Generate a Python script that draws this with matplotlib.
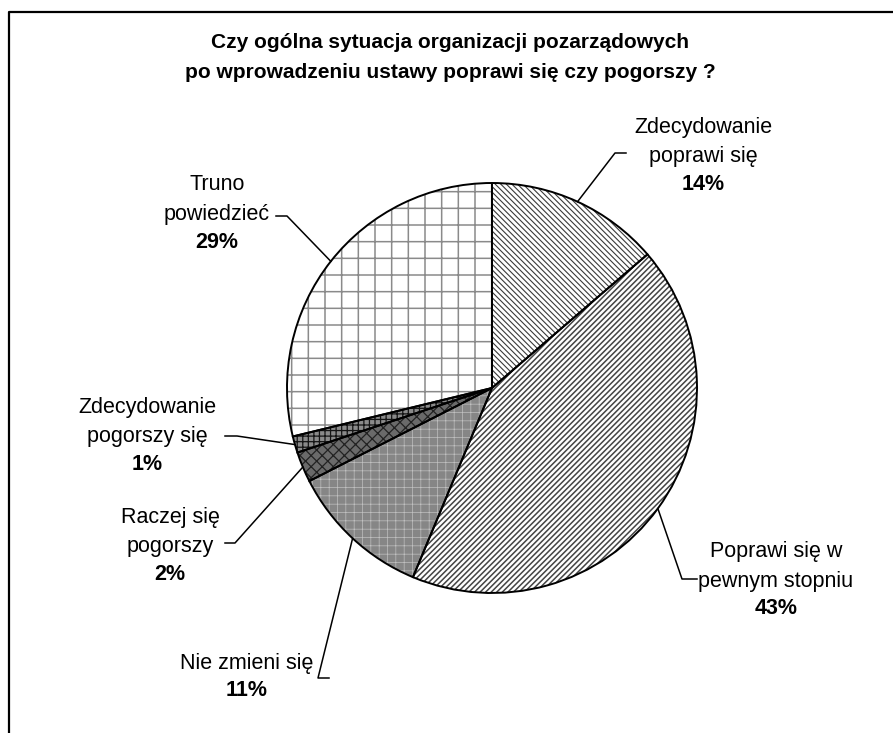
import matplotlib.pyplot as plt
import numpy as np

# answer shares (labels show the rounded percent)
labels = ['Zdecydowanie\npoprawi się', 'Poprawi się w\npewnym stopniu', 'Nie zmieni się',
          'Raczej się\npogorszy', 'Zdecydowanie\npogorszy się', 'Truno\npowiedzieć']
values = [13.7, 42.6, 11.2, 2.4, 1.3, 28.8]

title = 'Czy ogólna sytuacja organizacji pozarządowych\npo wprowadzeniu ustawy poprawi się czy pogorszy ?'

W, H = 893, 733
plt.rcParams['font.family'] = ['Liberation Sans', 'DejaVu Sans']

# fills imitating the old excel black & white patterns
faces = ['white', 'white', '#868686', '#6a6a6a', '#8a8a8a', 'white']
hatches = ['\\\\\\\\\\\\', '//////', '++', 'xxx', '+++', '+']
hcolors = ['#3a3a3a', '#444444', '#c0c0c0', '#222222', '#151515', '#8a8a8a']
hwidths = [0.8, 1.1, 0.5, 0.9, 0.9, 1.1]

# label layout in pixels: (x centre, y of first line, stub start x, stub end x, stub y)
lab_pos = [
    (703, 127, 615, 626, 153),
    (776, 552, 682, 697, 579),
    (247, 663, 318, 329, 678),
    (170, 517, 235, 225, 543),
    (147, 407, 237, 225, 436),
    (217, 185, 287, 276, 216),
]
step = 29.5

fig = plt.figure(figsize=(W / 100, H / 100), dpi=100)
ax = fig.add_axes([0, 0, 1, 1])

cx, cy, r = 492, H - 388, 205

wedges, _ = ax.pie(values, startangle=90, counterclock=False, center=(cx, cy), radius=r,
                   colors=faces, wedgeprops=dict(linewidth=0), frame=True)
for w, h, hc, hw in zip(wedges, hatches, hcolors, hwidths):
    w.set_hatch(h)
    w.set_edgecolor(hc)
    if hasattr(w, 'set_hatch_linewidth'):
        w.set_hatch_linewidth(hw)

# black outlines on top
outl, _ = ax.pie(values, startangle=90, counterclock=False, center=(cx, cy), radius=r,
                 wedgeprops=dict(fill=False, edgecolor='black', linewidth=1.4), frame=True)
ax.set_xlim(0, W)
ax.set_ylim(0, H)
ax.set_aspect('equal')
ax.axis('off')

for w, lab, v, (tx, ty, sx0, sx1, sy) in zip(wedges, labels, values, lab_pos):
    mid = np.deg2rad((w.theta1 + w.theta2) / 2)
    ex, ey = cx + r * np.cos(mid), cy + r * np.sin(mid)
    ax.plot([sx1, sx0, ex], [H - sy, H - sy, ey], color='black', lw=1.1)
    lines = lab.split('\n')
    for i, ln in enumerate(lines):
        ax.text(tx, H - (ty + i * step), ln, ha='center', va='center', fontsize=15.5)
    ax.text(tx, H - (ty + len(lines) * step - 2), '%.0f%%' % v, ha='center', va='center',
            fontsize=15.5, fontweight='bold')

t1, t2 = title.split('\n')
ax.text(450, H - 43, t1, ha='center', va='center', fontsize=15, fontweight='bold')
ax.text(450, H - 72, t2, ha='center', va='center', fontsize=15, fontweight='bold')

# chart frame, cut at the right and bottom
ax.plot([9, 9, W], [0, H - 12, H - 12], color='black', lw=1.6)

fig.savefig('out.png', dpi=100)
